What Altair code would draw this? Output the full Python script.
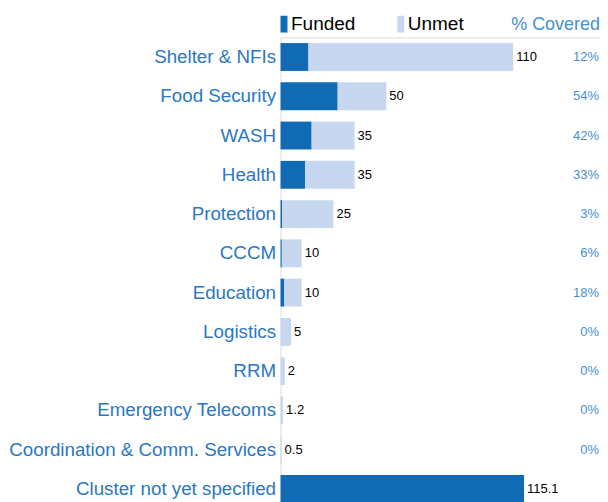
import altair as alt
import pandas as pd

clusters = ["Shelter & NFIs", "Food Security", "WASH", "Health", "Protection", "CCCM",
            "Education", "Logistics", "RRM", "Emergency Telecoms",
            "Coordination & Comm. Services", "Cluster not yet specified"]
totals = [110, 50, 35, 35, 25, 10, 10, 5, 2, 1.2, 0.5, 115.1]
funded = [13.2, 27, 14.7, 11.55, 0.75, 0.6, 1.8, 0, 0, 0, 0, 115.1]
pct_labels = ["12%", "54%", "42%", "33%", "3%", "6%", "18%", "0%", "0%", "0%", "0%", ""]
total_labels = ["110", "50", "35", "35", "25", "10", "10", "5", "2", "1.2", "0.5", "115.1"]
series = ["Funded", "Unmet"]

rows = []
for c, t, f in zip(clusters, totals, funded):
    rows.append({"cluster": c, "series": "Funded", "value": f, "order": 0})
    rows.append({"cluster": c, "series": "Unmet", "value": round(t - f, 4), "order": 1})
bars_df = pd.DataFrame(rows)
info_df = pd.DataFrame({"cluster": clusters, "total": totals, "pct": pct_labels, "tlabel": total_labels})

FUNDED_C = "#106ab4"
UNMET_C = "#c8d7f0"
LABEL_C = "#2a78c2"
PCT_C = "#4590d2"

yenc = alt.Y("cluster:N", sort=clusters,
             scale=alt.Scale(paddingInner=0.29, paddingOuter=0.145),
             axis=alt.Axis(title=None, ticks=False, domain=False, labelFontSize=18.8,
                           labelColor=LABEL_C, labelPadding=5, labelLimit=400,
                           labelFont="Liberation Sans"))
xscale = alt.Scale(domain=[0, 151], nice=False, zero=True)

bars = alt.Chart(bars_df).mark_bar().encode(
    x=alt.X("value:Q", stack="zero", scale=xscale, axis=None),
    y=yenc,
    color=alt.Color("series:N", scale=alt.Scale(domain=series, range=[FUNDED_C, UNMET_C]),
                    legend=alt.Legend(orient="none", legendX=-8.5, legendY=-23, direction="horizontal",
                                      title=None, symbolType="M-0.3,-2.4h2v4.8h-2z", symbolSize=49,
                                      symbolStrokeWidth=0, labelFontSize=19, labelColor="black",
                                      labelOffset=0, columnPadding=33, labelFont="Liberation Sans")),
    order=alt.Order("order:Q"),
)

vals = alt.Chart(info_df).mark_text(align="left", baseline="middle", dx=3, fontSize=13,
                                    color="black", font="Liberation Sans").encode(
    x=alt.X("total:Q", scale=xscale),
    y=alt.Y("cluster:N", sort=clusters),
    text="tlabel:N",
)

pcts = alt.Chart(info_df).mark_text(align="right", baseline="middle", fontSize=13,
                                    color=PCT_C, font="Liberation Sans").encode(
    x=alt.value(319),
    y=alt.Y("cluster:N", sort=clusters),
    text="pct:N",
)

header = alt.Chart(pd.DataFrame({"t": ["% Covered"]})).mark_text(
    align="right", baseline="middle", fontSize=18, color=PCT_C, font="Liberation Sans"
).encode(x=alt.value(320), y=alt.value(-12), text="t:N")

chart = alt.layer(bars, vals, pcts, header).properties(
    width=320, height=472,
    autosize=alt.AutoSizeParams(type="none"),
    padding={"left": 273, "top": 29, "right": 0, "bottom": 0},
).configure_view(stroke=None).configure(font="Liberation Sans")

chart.save("out.html", embed_options={"renderer": "svg", "actions": False})
